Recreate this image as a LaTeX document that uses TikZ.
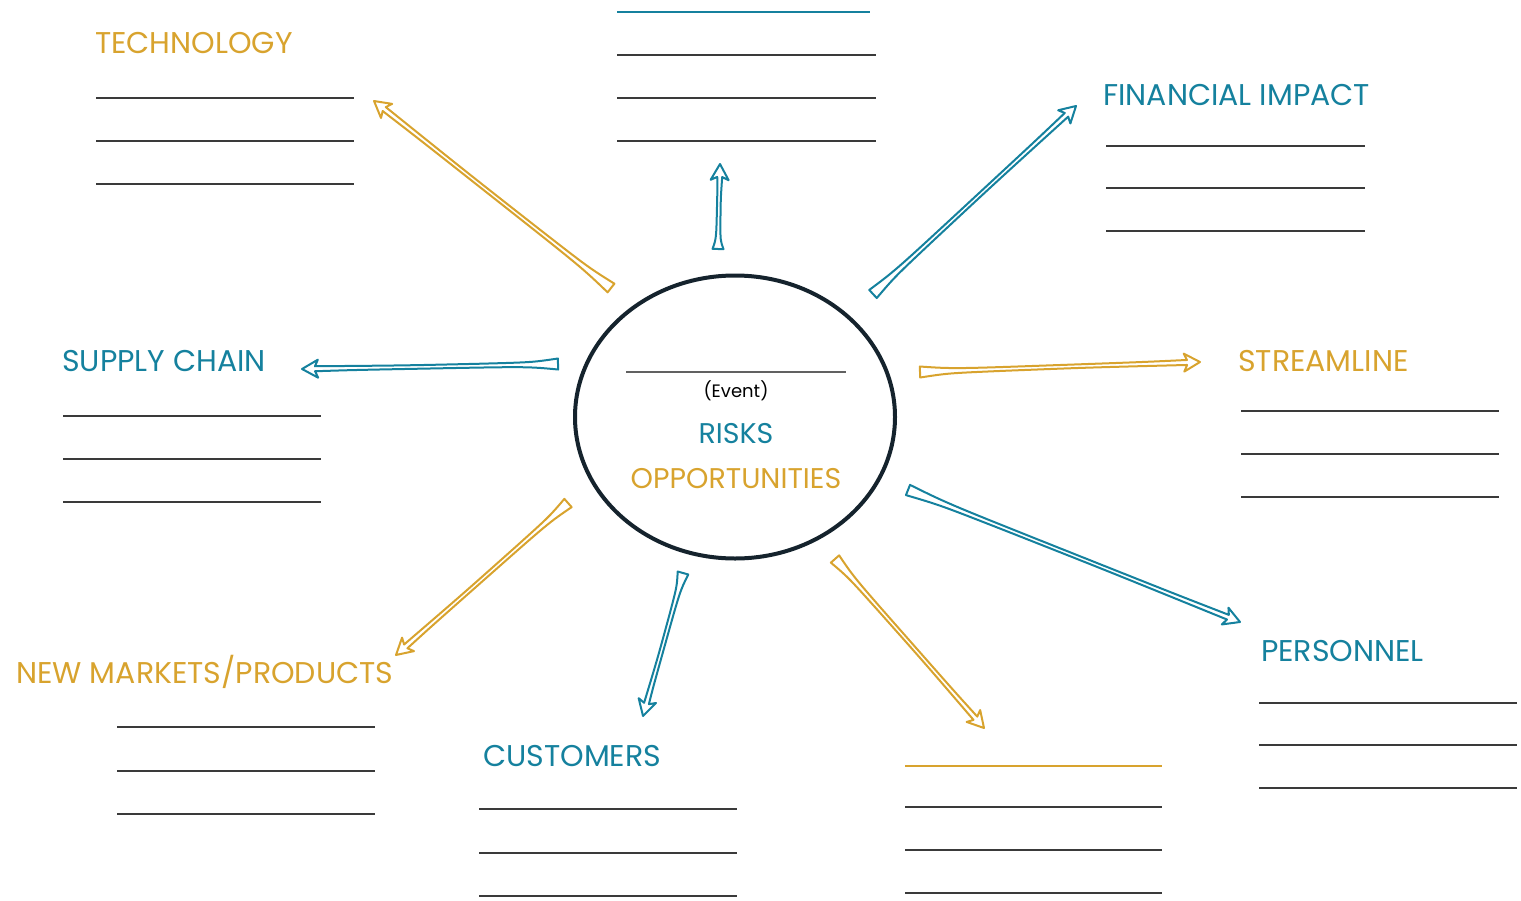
\documentclass[tikz,border=0pt]{standalone}
\usepackage{fontspec}
\setmainfont{Poppins}
\usetikzlibrary{shapes.geometric}
\definecolor{rteal}{HTML}{15819E}
\definecolor{rgold}{HTML}{D8A32E}
\definecolor{rdark}{HTML}{15232D}
\definecolor{rline}{HTML}{3A3A3A}
\newdimen\hax \newdimen\hay \newdimen\hbx \newdimen\hby
\newcommand\harrow[3]{%
 \pgfextractx{\hax}{\pgfpointanchor{#2}{center}}%
 \pgfextracty{\hay}{\pgfpointanchor{#2}{center}}%
 \pgfextractx{\hbx}{\pgfpointanchor{#3}{center}}%
 \pgfextracty{\hby}{\pgfpointanchor{#3}{center}}%
 \pgfmathsetmacro\hang{atan2(\hby-\hay,\hbx-\hax)}%
 \pgfmathsetmacro\hlen{veclen(\hbx-\hax,\hby-\hay)}%
 \begin{scope}[shift={(#2)},rotate=\hang,x=1pt,y=1pt]
 \draw[#1, arrowline] (0,-5.5) -- (0,5.5) .. controls (0.12*\hlen,2) .. (0.5*\hlen,2) .. controls (0.8*\hlen,2) .. (\hlen-13,2.5) -- (\hlen-16,9) -- (\hlen,0) -- (\hlen-16,-9) -- (\hlen-13,-2.5) .. controls (0.6*\hlen,-1.5) .. (0.3*\hlen,-1.8) .. controls (0.1*\hlen,-2.2) .. (0,-5.5) -- cycle;
 \end{scope}}
\tikzset{
 arrowline/.style={line width=2pt, line join=round},
 lab/.style={inner sep=0pt, anchor=base west, font=\fontsize{30}{33}\selectfont},
 blank/.style={draw=rline, line width=1.5pt},
}
\begin{document}
\begin{tikzpicture}[x=1pt,y=-1pt]
\useasboundingbox (0,0) rectangle (1521,900);
% hub
\node[ellipse, draw=rdark, line width=4pt, minimum width=320pt, minimum height=283pt] (hub) at (735,417) {};
\coordinate (el) at (626,372); \coordinate (er) at (846,372);
\draw[draw=rline!80, line width=1.5pt] (el) -- (er);
\node[inner sep=0pt, anchor=base, font=\fontsize{18}{20}\selectfont, text=black] (event) at (736,397) {(Event)};
\node[inner sep=0pt, anchor=base, font=\fontsize{28.5}{30}\selectfont, text=rteal] (risks) at (736,443) {RISKS};
\node[inner sep=0pt, anchor=base, font=\fontsize{28.5}{30}\selectfont, text=rgold] (opps) at (736,488) {OPPORTUNITIES};
% labels
\node[lab, text=rgold] (tech) at (95,53) {TECHNOLOGY};
\node[lab, text=rteal] (fin) at (1103,105) {FINANCIAL IMPACT};
\node[lab, text=rteal] (sup) at (62,371) {SUPPLY CHAIN};
\node[lab, text=rgold] (str) at (1238,371) {STREAMLINE};
\node[lab, text=rgold] (nmp) at (16,683) {NEW MARKETS/PRODUCTS};
\node[lab, text=rteal] (cus) at (483,766) {CUSTOMERS};
\node[lab, text=rteal] (per) at (1261,661) {PERSONNEL};
% blank lines
\foreach \xa/\xb/\ya in {96/354/98, 96/354/141, 96/354/184,
  617/876/55, 617/876/98, 617/876/141,
  1106/1365/146, 1106/1365/188, 1106/1365/231,
  63/321/416, 63/321/459, 63/321/502,
  1241/1499/411, 1241/1499/454, 1241/1499/497,
  117/375/727, 117/375/771, 117/375/814,
  479/737/809, 479/737/853, 479/737/896,
  905/1162/807, 905/1162/850, 905/1162/893,
  1259/1517/703, 1259/1517/745, 1259/1517/788}
  {\coordinate (la) at (\xa,\ya); \coordinate (lb) at (\xb,\ya); \draw[blank] (la) -- (lb);}
\coordinate (ta) at (617,12); \coordinate (tb) at (870,12);
\draw[draw=rteal, line width=2.2pt] (ta) -- (tb);
\coordinate (ba) at (905,766); \coordinate (bb) at (1162,766);
\draw[draw=rgold, line width=2.2pt] (ba) -- (bb);
% arrow ends
\coordinate (t1) at (611,288); \coordinate (h1) at (374,101);
\coordinate (t2) at (718,249); \coordinate (h2) at (720,164);
\coordinate (t3) at (873,294); \coordinate (h3) at (1076,106);
\coordinate (t4) at (558,364); \coordinate (h4) at (302,369);
\coordinate (t5) at (920,372); \coordinate (h5) at (1200,362);
\coordinate (t6) at (908,490); \coordinate (h6) at (1240,622);
\coordinate (t7) at (835,559); \coordinate (h7) at (984,728);
\coordinate (t8) at (683,573); \coordinate (h8) at (643,716);
\coordinate (t9) at (568,503); \coordinate (h9) at (396,655);
\harrow{draw=rgold}{t1}{h1}
\harrow{draw=rteal}{t2}{h2}
\harrow{draw=rteal}{t3}{h3}
\harrow{draw=rteal}{t4}{h4}
\harrow{draw=rgold}{t5}{h5}
\harrow{draw=rteal}{t6}{h6}
\harrow{draw=rgold}{t7}{h7}
\harrow{draw=rteal}{t8}{h8}
\harrow{draw=rgold}{t9}{h9}
\end{tikzpicture}
\end{document}
